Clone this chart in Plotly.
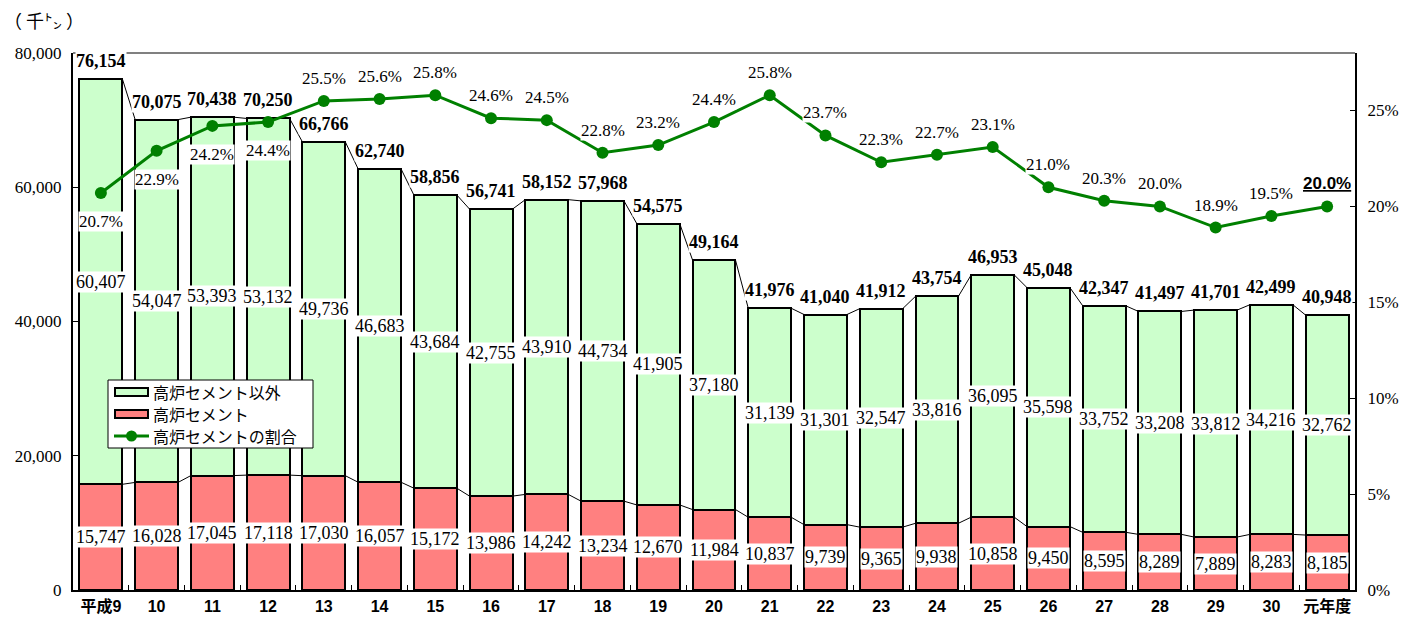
import plotly.graph_objects as go

# ---- data ----
years = ["平成9", "10", "11", "12", "13", "14", "15", "16", "17", "18", "19", "20",
         "21", "22", "23", "24", "25", "26", "27", "28", "29", "30", "元年度"]
bf_cement = [15747, 16028, 17045, 17118, 17030, 16057, 15172, 13986, 14242, 13234, 12670, 11984,
             10837, 9739, 9365, 9938, 10858, 9450, 8595, 8289, 7889, 8283, 8185]
other_cement = [60407, 54047, 53393, 53132, 49736, 46683, 43684, 42755, 43910, 44734, 41905, 37180,
                31139, 31301, 32547, 33816, 36095, 35598, 33752, 33208, 33812, 34216, 32762]
totals = [76154, 70075, 70438, 70250, 66766, 62740, 58856, 56741, 58152, 57968, 54575, 49164,
          41976, 41040, 41912, 43754, 46953, 45048, 42347, 41497, 41701, 42499, 40948]
bf_share = [20.7, 22.9, 24.2, 24.4, 25.5, 25.6, 25.8, 24.6, 24.5, 22.8, 23.2, 24.4,
            25.8, 23.7, 22.3, 22.7, 23.1, 21.0, 20.3, 20.0, 18.9, 19.5, 20.0]
y_ticks = [0, 20000, 40000, 60000, 80000]
y2_ticks = [0, 5, 10, 15, 20, 25]

name_other = "高炉セメント以外"
name_bf = "高炉セメント"
name_share = "高炉セメントの割合"

# ---- styles ----
SERIF = '"Liberation Serif", "Times New Roman", serif'
SANS = '"Liberation Sans", Arial, sans-serif'
XLAB = '"Liberation Sans", Arial, "Noto Sans CJK JP", sans-serif'
CJK = '"Noto Sans CJK JP", sans-serif'
GREEN_FILL = "#CCFFCC"
RED_FILL = "#FF8080"
LINE_GREEN = "#008000"
BAR_W = 0.77
share_labels_below = 4  # first N share labels sit below their markers

n = len(years)
xs = list(range(n))

fig = go.Figure()

fig.add_trace(go.Bar(
    x=xs, y=bf_cement, name=name_bf, width=BAR_W, showlegend=False,
    marker=dict(color=RED_FILL, line=dict(color="black", width=2)), hoverinfo="skip"))
fig.add_trace(go.Bar(
    x=xs, y=other_cement, name=name_other, width=BAR_W, showlegend=False,
    marker=dict(color=GREEN_FILL, line=dict(color="black", width=2)), hoverinfo="skip"))


def connectors(tops):
    cx, cy = [], []
    for i in range(n - 1):
        cx += [xs[i] + BAR_W / 2, xs[i + 1] - BAR_W / 2, None]
        cy += [tops[i], tops[i + 1], None]
    return cx, cy


stack_tops = [a + b for a, b in zip(bf_cement, other_cement)]
for tops in (stack_tops, bf_cement):
    cx, cy = connectors(tops)
    fig.add_trace(go.Scatter(x=cx, y=cy, mode="lines", line=dict(color="black", width=1),
                             showlegend=False, hoverinfo="skip"))

fig.add_trace(go.Scatter(
    x=xs, y=bf_share, name=name_share, yaxis="y2", mode="lines+markers", showlegend=False,
    line=dict(color=LINE_GREEN, width=3), marker=dict(color=LINE_GREEN, size=12),
    hoverinfo="skip"))

# invisible trace carrying the category label axis
fig.add_trace(go.Scatter(x=[xs[0]], y=[0], xaxis="x2", mode="markers",
                         marker=dict(opacity=0), showlegend=False, hoverinfo="skip"))

ann = []
for i in xs:
    ann.append(dict(x=i, y=bf_cement[i] / 2, xref="x", yref="y", text=f"{bf_cement[i]:,}",
                    showarrow=False, bgcolor="white", borderpad=0,
                    font=dict(family=SERIF, size=18, color="black")))
    ann.append(dict(x=i, y=bf_cement[i] + other_cement[i] / 2, xref="x", yref="y",
                    text=f"{other_cement[i]:,}", showarrow=False, bgcolor="white", borderpad=0,
                    font=dict(family=SERIF, size=18, color="black")))
    ann.append(dict(x=i, y=stack_tops[i], xref="x", yref="y", text=f"<b>{totals[i]:,}</b>",
                    showarrow=False, bgcolor="white", borderpad=0, yanchor="bottom", yshift=7,
                    font=dict(family=SERIF, size=18, color="black")))
    if i == n - 1:
        ann.append(dict(x=i, y=bf_share[i], xref="x", yref="y2",
                        text=f"<b><u>{bf_share[i]:.1f}%</u></b>",
                        showarrow=False, bgcolor="white", borderpad=0, yanchor="bottom", yshift=12,
                        font=dict(family=SANS, size=17, color="black")))
    elif i < share_labels_below:
        ann.append(dict(x=i, y=bf_share[i], xref="x", yref="y2", text=f"{bf_share[i]:.1f}%",
                        showarrow=False, bgcolor="white", borderpad=0, yanchor="top", yshift=-18,
                        font=dict(family=SERIF, size=17, color="black")))
    else:
        ann.append(dict(x=i, y=bf_share[i], xref="x", yref="y2", text=f"{bf_share[i]:.1f}%",
                        showarrow=False, bgcolor="white", borderpad=0, yanchor="bottom", yshift=12,
                        font=dict(family=SERIF, size=17, color="black")))

# unit label
ann.append(dict(x=-0.0554, y=1.0615, xref="paper", yref="paper", xanchor="left", yanchor="middle",
                text="（ 千㌧ ）", showarrow=False, font=dict(family=CJK, size=18, color="black")))

# ---- hand-drawn legend box (paper coordinates) ----
PW, PH, PL, PB = 1282.0, 537.0, 73.0, 590.0


def px(x):
    return (x - PL) / PW


def py(y):
    return (PB - y) / PH


shapes = [dict(type="line", xref="paper", yref="paper", x0=0, x1=1, y0=1, y1=1,
               line=dict(color="#808080", width=2))]
shapes.append(dict(type="rect", xref="paper", yref="paper", x0=px(108), x1=px(313),
                   y0=py(448), y1=py(380), fillcolor="white", line=dict(color="black", width=1)))
legend_rows = [(name_other, "bar", GREEN_FILL, 392),
               (name_bf, "bar", RED_FILL, 414),
               (name_share, "line", LINE_GREEN, 436)]
for label, kind, col, yc in legend_rows:
    if kind == "bar":
        shapes.append(dict(type="rect", xref="paper", yref="paper", x0=px(115), x1=px(148),
                           y0=py(yc + 4), y1=py(yc - 4), fillcolor=col,
                           line=dict(color="black", width=2)))
    else:
        shapes.append(dict(type="line", xref="paper", yref="paper", x0=px(114), x1=px(149),
                           y0=py(yc), y1=py(yc), line=dict(color=col, width=3)))
        shapes.append(dict(type="circle", xref="paper", yref="paper", x0=px(126), x1=px(137),
                           y0=py(yc + 5.5), y1=py(yc - 5.5), fillcolor=col,
                           line=dict(color=col, width=0)))
    ann.append(dict(x=px(151), y=py(yc), xref="paper", yref="paper", xanchor="left",
                    yanchor="middle", text=label, showarrow=False,
                    font=dict(family=CJK, size=16, color="black")))

fig.update_layout(
    width=1402, height=617,
    margin=dict(l=73, r=47, t=53, b=27),
    paper_bgcolor="white", plot_bgcolor="white",
    barmode="stack", bargap=0.23,
    showlegend=False,
    xaxis=dict(range=[-0.5, n - 0.5], tickvals=[i - 0.5 for i in range(n + 1)],
               showticklabels=False, ticks="inside", ticklen=5, tickcolor="black", tickwidth=1,
               showline=True, linecolor="black", linewidth=2, showgrid=False, zeroline=False,
               automargin=False),
    xaxis2=dict(overlaying="x", matches="x", anchor="y", side="bottom",
                tickvals=xs, ticktext=years, ticks="", showline=False, showgrid=False,
                zeroline=False, ticklabelstandoff=5, automargin=False,
                tickfont=dict(family=XLAB, size=16, color="black", weight="bold")),
    yaxis=dict(range=[0, 80000], tickvals=y_ticks, ticktext=[f"{v:,}" for v in y_ticks],
               ticks="inside", ticklen=5, tickcolor="black", automargin=False,
               ticklabelstandoff=6,
               showline=True, linecolor="black", linewidth=2, showgrid=False, zeroline=False,
               tickfont=dict(family=SERIF, size=17, color="black")),
    yaxis2=dict(overlaying="y", side="right", range=[0, 28], tickvals=y2_ticks,
                ticktext=[f"{v}%" for v in y2_ticks], ticks="inside", ticklen=5,
                tickcolor="black", automargin=False, ticklabelstandoff=7,
                showline=True, linecolor="black", linewidth=2, showgrid=False, zeroline=False,
                tickfont=dict(family=SERIF, size=17, color="black")),
    shapes=shapes,
    annotations=ann,
)

fig.write_html("out.html", config={"displayModeBar": False},
               post_script="document.body.style.margin='0';document.body.style.overflow='hidden';")
